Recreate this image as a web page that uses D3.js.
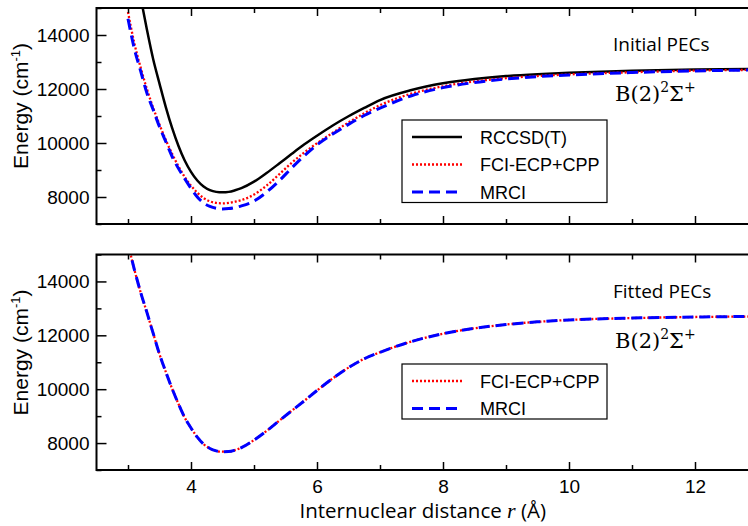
<!DOCTYPE html>
<html>
<head>
<meta charset="utf-8">
<script src="https://cdn.jsdelivr.net/npm/d3@7"></script>
<style>
  body { margin: 0; background: #fff; }
  svg { display: block; }
  .tick text { font-family: "Liberation Sans", Arial, sans-serif; font-size: 19px; fill: #000; }
  .tick line { stroke: #000; stroke-width: 1.5; }
</style>
</head>
<body>
<div id="chart"></div>
<script>
// internuclear distance grid (Å)
const rGrid = [3.0, 3.1, 3.2, 3.3, 3.4, 3.5, 3.6, 3.7, 3.8, 3.9, 4.0, 4.1, 4.2, 4.3, 4.4, 4.5, 4.6, 4.7, 4.8,
  5.0, 5.2, 5.4, 5.6, 5.8, 6.0, 6.25, 6.5, 6.75, 7.0, 7.5, 8.0, 8.5, 9.0, 9.5, 10.0, 11.0, 12.0, 13.0];

// initial PECs (cm-1)
const rccsdInitial = [null, null, 15400, 14200, 13100, 12200, 11330, 10560, 9900, 9350, 8930, 8610, 8390, 8255, 8190, 8172, 8190, 8250, 8330,
  8570, 8890, 9240, 9600, 9950, 10270, 10650, 10990, 11300, 11590, 11960, 12210, 12370, 12480, 12550, 12600, 12680, 12725, 12745];
const fciInitial = [14850, 13700, 12800, 12000, 11300, 10680, 10110, 9600, 9140, 8740, 8420, 8160, 7960, 7840, 7780, 7765, 7780, 7825, 7885,
  8090, 8420, 8840, 9270, 9650, 9990, 10380, 10760, 11100, 11400, 11830, 12100, 12280, 12400, 12480, 12540, 12620, 12680, 12710];
const mrciInitial = [14600, 13500, 12670, 11850, 11230, 10600, 10050, 9500, 9060, 8680, 8320, 8000, 7780, 7650, 7580, 7555, 7570, 7610, 7670,
  7850, 8180, 8600, 9080, 9530, 9930, 10330, 10690, 11020, 11290, 11750, 12050, 12240, 12370, 12460, 12520, 12610, 12670, 12705];

// fitted PECs (cm-1)
const fciFitted = [15400, 14450, 13600, 12850, 12070, 11300, 10640, 10020, 9460, 8950, 8560, 8220, 7960, 7800, 7710, 7680, 7685, 7740, 7830,
  8110, 8450, 8830, 9200, 9570, 9950, 10400, 10800, 11130, 11370, 11770, 12060, 12260, 12400, 12500, 12570, 12640, 12680, 12700];
const mrciFitted = [15400, 14450, 13600, 12850, 12070, 11300, 10640, 10020, 9460, 8950, 8560, 8220, 7960, 7800, 7710, 7680, 7685, 7740, 7830,
  8110, 8450, 8830, 9200, 9570, 9950, 10400, 10800, 11130, 11370, 11770, 12060, 12260, 12400, 12500, 12570, 12640, 12680, 12700];

const xMajor = [4, 6, 8, 10, 12];
const xMinor = [3, 5, 7, 9, 11, 13];
const yMajor = [8000, 10000, 12000, 14000];
const yMinor = [7000, 9000, 11000, 13000, 15000];

const styles = {
  rccsd: { label: 'RCCSD(T)', color: '#000', width: 2.5, dash: null },
  fci: { label: 'FCI-ECP+CPP', color: '#ff0000', width: 2.3, dash: '2,2' },
  mrci: { label: 'MRCI', color: '#0000ff', width: 3, dash: '11,6' }
};

const W = 748, H = 526;
const left = 96.5, right = 758;

const svg = d3.select('#chart').append('svg')
  .attr('width', W)
  .attr('height', H);

const x = d3.scaleLinear().domain([2.5, 13]).range([left, right]);

function drawPanel(id, top, bottom, series, title, legendTop, showXLabels) {
  const y = d3.scaleLinear().domain([7000, 15000]).range([bottom, top]);
  const g = svg.append('g');

  g.append('clipPath').attr('id', 'clip-' + id)
    .append('rect')
    .attr('x', left).attr('y', top)
    .attr('width', right - left).attr('height', bottom - top);

  // 曲线
  const line = d3.line()
    .defined(d => d[1] != null)
    .x(d => x(d[0]))
    .y(d => y(d[1]))
    .curve(d3.curveMonotoneX);

  const curves = g.append('g').attr('clip-path', `url(#clip-${id})`);
  series.forEach(s => {
    const st = styles[s.key];
    curves.append('path')
      .datum(rGrid.map((r, i) => [r, s.values[i]]))
      .attr('d', line)
      .attr('fill', 'none')
      .attr('stroke', st.color)
      .attr('stroke-width', st.width)
      .attr('stroke-dasharray', st.dash);
  });

  // 坐标轴 (inward ticks on all sides)
  const addAxis = (axis, tx, ty) => {
    const a = g.append('g').attr('transform', `translate(${tx},${ty})`).call(axis);
    a.select('.domain').remove();
    return a;
  };

  addAxis(d3.axisBottom(x).tickValues(xMajor).tickSize(-8).tickPadding(10)
    .tickFormat(showXLabels ? d3.format('d') : ''), 0, bottom);
  addAxis(d3.axisBottom(x).tickValues(xMinor).tickSize(-5).tickFormat(''), 0, bottom);
  addAxis(d3.axisTop(x).tickValues(xMajor).tickSize(-8).tickFormat(''), 0, top);
  addAxis(d3.axisTop(x).tickValues(xMinor).tickSize(-5).tickFormat(''), 0, top);
  addAxis(d3.axisLeft(y).tickValues(yMajor).tickSize(-10).tickPadding(7).tickFormat(d3.format('d')), left, 0);
  addAxis(d3.axisLeft(y).tickValues(yMinor).tickSize(-5).tickFormat(''), left, 0);
  addAxis(d3.axisRight(y).tickValues(yMajor).tickSize(-10).tickFormat(''), right, 0);
  addAxis(d3.axisRight(y).tickValues(yMinor).tickSize(-5).tickFormat(''), right, 0);

  g.append('rect')
    .attr('x', left).attr('y', top)
    .attr('width', right - left).attr('height', bottom - top)
    .attr('fill', 'none')
    .attr('stroke', '#000')
    .attr('stroke-width', 2);

  // y 轴标题
  const yt = g.append('text')
    .attr('transform', `translate(28,${top + 98}) rotate(-90)`)
    .attr('text-anchor', 'middle')
    .style('font-family', '"Liberation Sans", Arial, sans-serif')
    .style('font-size', '21px');
  yt.append('tspan').text('Energy (cm');
  yt.append('tspan').attr('dy', -8).style('font-size', '13px').text('-1');
  yt.append('tspan').attr('dy', 8).text(')');

  // 标注
  g.append('text')
    .attr('x', 613).attr('y', top + 43)
    .style('font-family', '"Open Sans", sans-serif')
    .style('font-size', '19px')
    .text(title);

  const st = g.append('text')
    .attr('x', 615).attr('y', top + 93)
    .style('font-family', '"DejaVu Serif", serif')
    .style('font-size', '21px');
  st.append('tspan').text('B(2)');
  st.append('tspan').attr('dy', -9).style('font-size', '14px').text('2');
  st.append('tspan').attr('dy', 9).text('Σ');
  st.append('tspan').attr('dy', -9).style('font-size', '14px').text('+');

  // 图例
  const rowH = 27.5;
  const lg = g.append('g').attr('transform', `translate(402,${legendTop})`);
  lg.append('rect')
    .attr('width', 205)
    .attr('height', series.length * rowH)
    .attr('fill', '#fff')
    .attr('stroke', '#000')
    .attr('stroke-width', 1.2);
  series.forEach((s, i) => {
    const st = styles[s.key];
    const cy = 17 + i * rowH;
    lg.append('line')
      .attr('x1', 10).attr('x2', 60)
      .attr('y1', cy).attr('y2', cy)
      .attr('stroke', st.color)
      .attr('stroke-width', st.width)
      .attr('stroke-dasharray', st.key === 'mrci' ? '12,7' : st.dash);
    lg.append('text')
      .attr('x', 78).attr('y', cy + 6.5)
      .style('font-family', '"Liberation Sans", Arial, sans-serif')
      .style('font-size', '18px')
      .text(st.label);
  });
}

drawPanel('top', 8, 224, [
  { key: 'rccsd', values: rccsdInitial },
  { key: 'fci', values: fciInitial },
  { key: 'mrci', values: mrciInitial }
], 'Initial PECs', 120, false);

drawPanel('bottom', 254.5, 470, [
  { key: 'fci', values: fciFitted },
  { key: 'mrci', values: mrciFitted }
], 'Fitted PECs', 364, true);

// x 轴标题
const xt = svg.append('text')
  .attr('x', (left + 749) / 2).attr('y', 518)
  .attr('text-anchor', 'middle')
  .style('font-family', '"Open Sans", sans-serif')
  .style('font-size', '20.5px');
xt.append('tspan').text('Internuclear distance ');
xt.append('tspan').style('font-family', '"Liberation Serif", serif').style('font-style', 'italic').style('font-size', '22px').text('r');
xt.append('tspan').text(' (Å)');
</script>
</body>
</html>
